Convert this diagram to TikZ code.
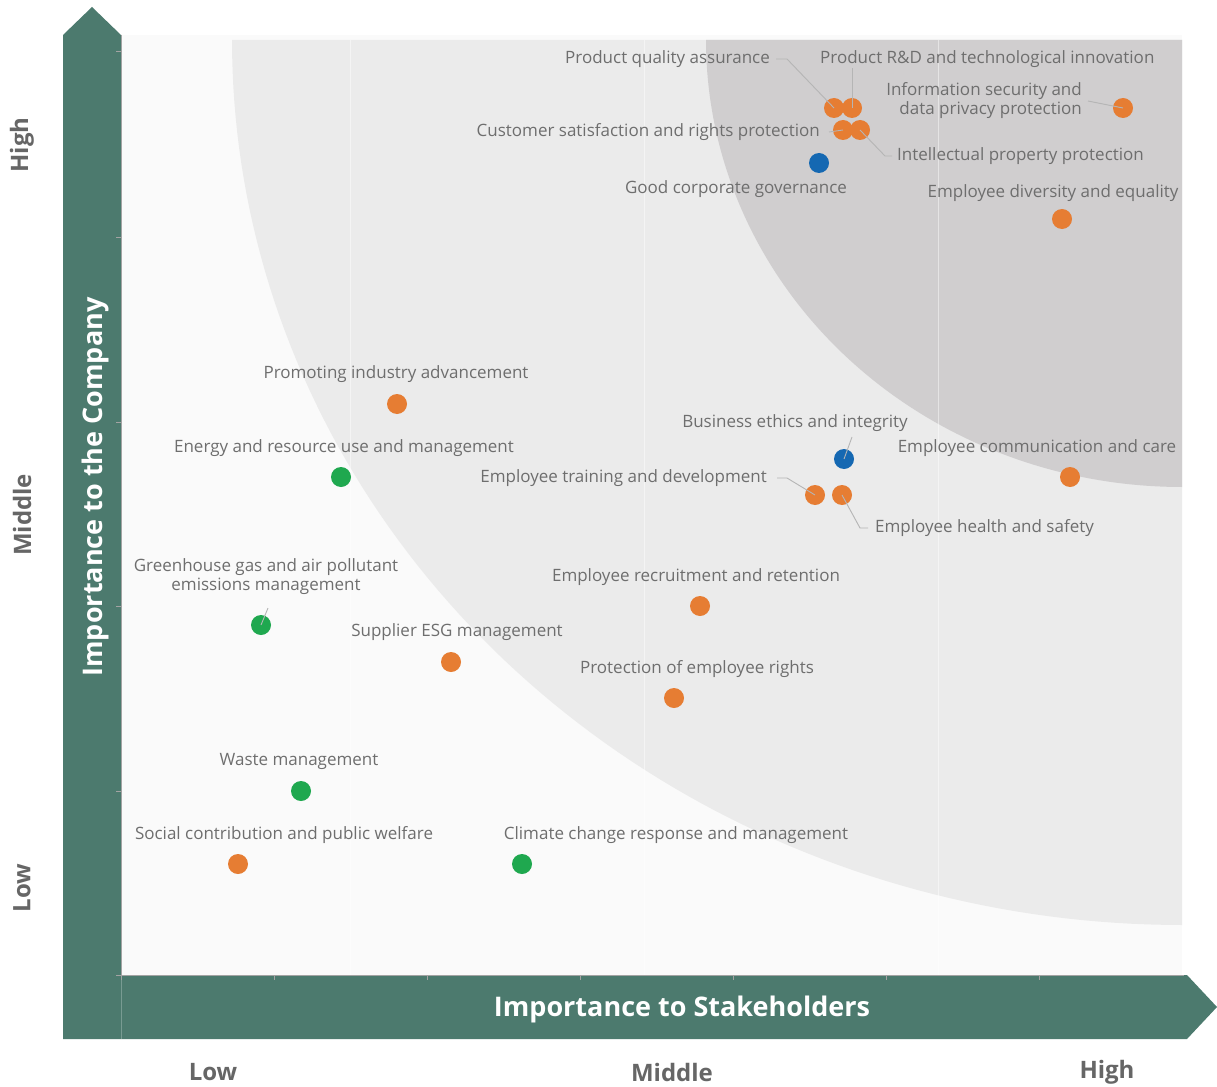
\documentclass[tikz,border=0pt]{standalone}
\usepackage{fontspec}
\setmainfont{Open Sans}
\definecolor{barG}{HTML}{4C7A6E}
\definecolor{plotbg}{HTML}{FAFAFA}
\definecolor{midgrey}{HTML}{EBEBEB}
\definecolor{darkgrey}{HTML}{D0CECF}
\definecolor{dotO}{HTML}{E67D33}
\definecolor{dotG}{HTML}{1FA84F}
\definecolor{dotB}{HTML}{1568B2}
\definecolor{txt}{HTML}{6E6E6E}
\definecolor{lvltxt}{HTML}{666666}
\definecolor{leadc}{HTML}{B5B5B5}
\definecolor{tickc}{HTML}{A3A3A3}
\tikzset{
  dotbase/.style={circle, minimum size=20pt, inner sep=0pt},
  odot/.style={dotbase, fill=dotO},
  gdot/.style={dotbase, fill=dotG},
  bdot/.style={dotbase, fill=dotB},
  lbl/.style={text=txt, inner sep=0pt, font=\fontsize{17}{19}\selectfont},
  lbl2/.style={lbl, align=center},
  lblr/.style={lbl, align=right},
  lead/.style={draw=leadc, line width=0.9pt},
  lvl/.style={text=lvltxt, inner sep=0pt, font=\fontsize{24}{28}\selectfont\bfseries},
  ttl/.style={text=white, inner sep=0pt, font=\fontsize{27}{31}\selectfont\bfseries},
  tickl/.style={draw=tickc, line width=1pt},
  gridl/.style={draw=white, opacity=0.45, line width=1pt}
}
\begin{document}
\begin{tikzpicture}[x=1pt,y=-1pt]
\useasboundingbox (0,0) rectangle (1217,1086);
\fill[white] (0,0) rectangle (1217,1086);
% plot background
\fill[plotbg] (121,35) rectangle (1182,975);
\fill[midgrey] (232,40) -- (1182,40) -- (1182,925) -- plot[domain=90:0,samples=90] ({1182-950*cos(\x)},{40+885*sin(\x)}) -- cycle;
\fill[darkgrey] (706,40) -- (1182,40) -- (1182,487) -- plot[domain=90:0,samples=90] ({1182-476*cos(\x)},{40+447*sin(\x)}) -- cycle;
\foreach \gx in {350,644,938} \draw[gridl] (\gx,40) -- (\gx,975);
% axes bars
\fill[barG] (63,35) -- (92,7) -- (121,35) -- (121,975) -- (1187,975) -- (1217,1007) -- (1187,1039) -- (63,1039) -- cycle;
\draw[draw=white, opacity=0.25, line width=0.6pt] (121,975) -- (121,1039);
\draw[tickl] (121,35) -- (121,975) -- (1184,975);
\foreach \ty in {52,237,422,606,791,975} \draw[tickl] (116,\ty) -- (121,\ty);
\foreach \tx in {121,274,427,580,733,886,1039} \draw[tickl] (\tx,975) -- (\tx,980);
% titles
\node[ttl] (tx) at (682,1009) {Importance to Stakeholders};
\node[ttl, rotate=90] (ty) at (95,487) {Importance to the Company};
% level labels
\node[lvl, rotate=90] (yH) at (22,145) {High};
\node[lvl, rotate=90] (yM) at (22,515) {Middle};
\node[lvl, rotate=90] (yL) at (22,888) {Low};
\node[lvl] (xL) at (213,1072) {Low};
\node[lvl] (xM) at (672,1072) {Middle};
\node[lvl] (xH) at (1107,1072) {High};
% dots
\node[odot] (dPQA) at (834,108) {};
\node[odot] (dRD) at (852,108) {};
\node[odot] (dIS) at (1123,108) {};
\node[odot] (dCS) at (843,130) {};
\node[odot] (dIP) at (860,130) {};
\node[bdot] (dGCG) at (819,163) {};
\node[odot] (dDIV) at (1062,219) {};
\node[odot] (dPIA) at (397,404) {};
\node[bdot] (dBE) at (844,459) {};
\node[odot] (dECC) at (1070,477) {};
\node[gdot] (dERU) at (341,477) {};
\node[odot] (dETD) at (815,495) {};
\node[odot] (dEHS) at (842,495) {};
\node[gdot] (dGHG) at (261,625) {};
\node[odot] (dERR) at (700,606) {};
\node[odot] (dSESG) at (451,662) {};
\node[odot] (dPER) at (674,698) {};
\node[gdot] (dWM) at (301,791) {};
\node[odot] (dSC) at (238,864) {};
\node[gdot] (dCC) at (522,864) {};
% labels
\node[lbl, anchor=east] (lPQA) at (770,59) {Product quality assurance};
\node[lbl, anchor=west] (lRD) at (820,59) {Product R\&D and technological innovation};
\node[lblr, anchor=east] (lIS) at (1082,101) {Information security and\\data privacy protection};
\node[lbl, anchor=east] (lCS) at (820,132) {Customer satisfaction and rights protection};
\node[lbl, anchor=west] (lIP) at (897,156) {Intellectual property protection};
\node[lbl] (lGCG) at (736,189) {Good corporate governance};
\node[lbl] (lDIV) at (1053,193) {Employee diversity and equality};
\node[lbl] (lPIA) at (396,374) {Promoting industry advancement};
\node[lbl] (lBE) at (795,423) {Business ethics and integrity};
\node[lbl] (lECC) at (1037,448) {Employee communication and care};
\node[lbl] (lERU) at (344,448) {Energy and resource use and management};
\node[lbl, anchor=east] (lETD) at (767,478) {Employee training and development};
\node[lbl, anchor=west] (lEHS) at (875,528) {Employee health and safety};
\node[lbl2] (lGHG) at (266,577) {Greenhouse gas and air pollutant\\emissions management};
\node[lbl] (lERR) at (696,577) {Employee recruitment and retention};
\node[lbl] (lSESG) at (457,632) {Supplier ESG management};
\node[lbl] (lPER) at (697,669) {Protection of employee rights};
\node[lbl] (lWM) at (299,761) {Waste management};
\node[lbl] (lSC) at (284,835) {Social contribution and public welfare};
\node[lbl] (lCC) at (676,835) {Climate change response and management};
% leaders
\draw[lead] ([xshift=6pt]lPQA.east) -- ++(11,0) -- (dPQA.center);
\draw[lead] (dRD.center) -- (852,68);
\draw[lead] ([xshift=6pt]lIS.east) -- (dIS.center);
\draw[lead] ([xshift=9pt]lCS.east) -- (dCS.center);
\draw[lead] (dIP.center) -- ([xshift=-12pt]lIP.west) -- ([xshift=-5pt]lIP.west);
\draw[lead] ([xshift=10pt]lETD.east) -- ++(10,0) -- (dETD.center);
\draw[lead] (dEHS.center) -- ([xshift=-15pt]lEHS.west) -- ([xshift=-7pt]lEHS.west);
\draw[lead] (852,437) -- (dBE.center);
\draw[lead] (268,608) -- (dGHG.center);
\end{tikzpicture}
\end{document}
